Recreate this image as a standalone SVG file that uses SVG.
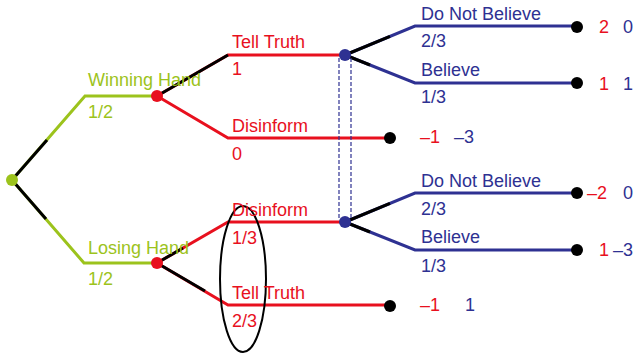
<svg xmlns="http://www.w3.org/2000/svg" width="634" height="354" viewBox="0 0 634 354">
<style>
text{font-family:"Liberation Sans",Arial,Helvetica,sans-serif;font-size:18px}
.g{fill:#9CC31C}.r{fill:#E8101E}.b{fill:#2E3192}
.lg{stroke:#9CC31C;stroke-width:3;fill:none}
.lr{stroke:#E8101E;stroke-width:3;fill:none}
.lb{stroke:#2E3192;stroke-width:3;fill:none}
.lk{stroke:#000;stroke-width:3;fill:none}
.ds{stroke:#2E3192;stroke-width:1.2;stroke-dasharray:4 2;fill:none}
</style>
<rect width="634" height="354" fill="#fff"/>
<g id="connectors">
<polyline class="lg" points="12,180 85,96 157,96"/>
<polyline class="lg" points="12,180 84,263 157,263"/>
<line class="lk" x1="12" y1="180" x2="47" y2="140"/>
<line class="lk" x1="12" y1="180" x2="46" y2="219"/>
<polyline class="lr" points="157,96 228,55 345,55"/>
<line class="lk" x1="157" y1="96" x2="228" y2="55"/>
<polyline class="lr" points="157,96 228,138 390,138"/>
<polyline class="lr" points="157,263 228,222 345,222"/>
<line class="lk" x1="157" y1="263" x2="183" y2="248"/>
<polyline class="lr" points="157,263 228,305 390,305"/>
<line class="lk" x1="157" y1="263" x2="205" y2="291"/>
<polyline class="lb" points="345,55 415,26 577,26"/>
<line class="lk" x1="345" y1="55" x2="390" y2="36.4"/>
<polyline class="lb" points="345,55 415,83 577,83"/>
<line class="lk" x1="345" y1="55" x2="370" y2="65"/>
<polyline class="lb" points="345,222 415,193 577,193"/>
<line class="lk" x1="345" y1="222" x2="390" y2="203.4"/>
<polyline class="lb" points="345,222 415,250 577,250"/>
<line class="lk" x1="345" y1="222" x2="370" y2="232"/>
<line class="ds" x1="339" y1="58" x2="339" y2="220"/>
<line class="ds" x1="351" y1="58" x2="351" y2="220"/>
<ellipse cx="243" cy="279" rx="23" ry="73" fill="none" stroke="#000" stroke-width="2"/>
</g>
<g id="root"><circle cx="12" cy="180" r="6" class="g"/></g>
<g id="win"><circle cx="157" cy="96" r="6" class="r"/>
<text x="88" y="86" class="g">Winning Hand</text><text x="88" y="118" class="g">1/2</text></g>
<g id="lose"><circle cx="157" cy="263" r="6" class="r"/>
<text x="88" y="254" class="g">Losing Hand</text><text x="88" y="285" class="g">1/2</text></g>
<g id="labels-red">
<text x="232" y="48" class="r">Tell Truth</text><text x="232" y="75" class="r">1</text>
<text x="232" y="132" class="r">Disinform</text><text x="232" y="160" class="r">0</text>
<text x="232" y="216" class="r">Disinform</text><text x="232" y="244" class="r">1/3</text>
<text x="232" y="299" class="r">Tell Truth</text><text x="232" y="327" class="r">2/3</text>
</g>
<g id="recv-top"><circle cx="345" cy="55" r="6" class="b"/>
<text x="421" y="20" class="b">Do Not Believe</text><text x="421" y="47" class="b">2/3</text>
<text x="421" y="76" class="b">Believe</text><text x="421" y="103" class="b">1/3</text></g>
<g id="recv-bot"><circle cx="345" cy="222" r="6" class="b"/>
<text x="421" y="187" class="b">Do Not Believe</text><text x="421" y="215" class="b">2/3</text>
<text x="421" y="243" class="b">Believe</text><text x="421" y="272" class="b">1/3</text></g>
<g id="end1"><circle cx="577" cy="27" r="6"/><text x="599" y="33" class="r">2</text><text x="623" y="33" class="b">0</text></g>
<g id="end2"><circle cx="577" cy="83" r="6"/><text x="599" y="90" class="r">1</text><text x="623" y="90" class="b">1</text></g>
<g id="end3"><circle cx="390" cy="138" r="6"/><text x="420" y="143" class="r">–1</text><text x="454" y="143" class="b">–3</text></g>
<g id="end4"><circle cx="577" cy="193" r="6"/><text x="587" y="199" class="r">–2</text><text x="623" y="199" class="b">0</text></g>
<g id="end5"><circle cx="577" cy="250" r="6"/><text x="599" y="256" class="r">1</text><text x="613" y="256" class="b">–3</text></g>
<g id="end6"><circle cx="390" cy="306" r="6"/><text x="420" y="311" class="r">–1</text><text x="465" y="311" class="b">1</text></g>
</svg>
